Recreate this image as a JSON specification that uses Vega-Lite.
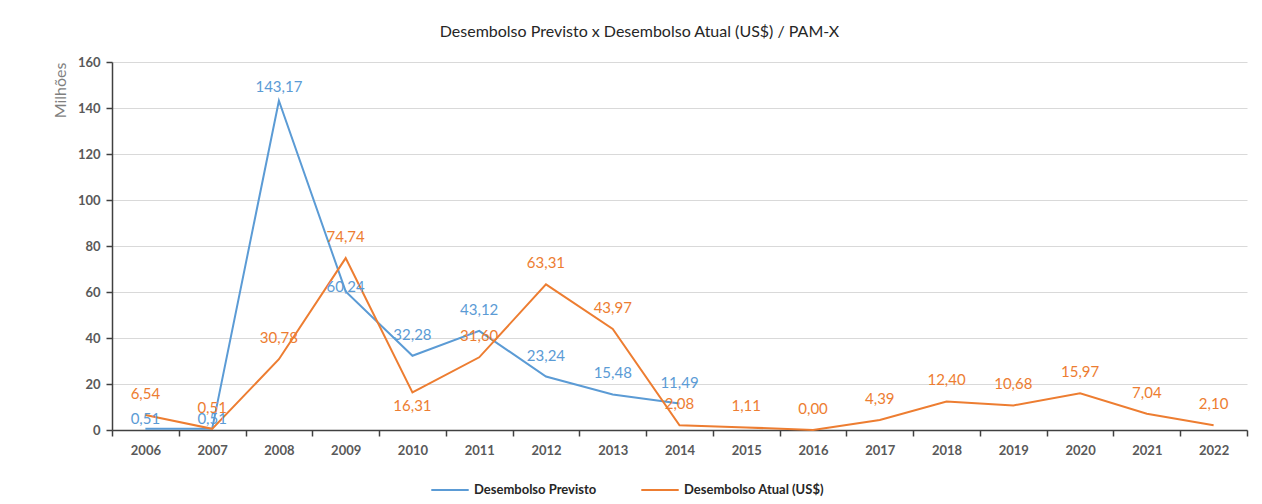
{
  "$schema": "https://vega.github.io/schema/vega-lite/v6.json",
  "width": 1135,
  "height": 368,
  "padding": {"left": 52, "top": 24, "right": 15, "bottom": 5},
  "background": "white",
  "config": {
    "font": "Lato",
    "locale": {"number": {"decimal": ",", "thousands": ".", "grouping": [3], "currency": ["R$", ""]}},
    "view": {"stroke": null},
    "axis": {"labelFont": "Lato", "titleFont": "Lato"}
  },
  "title": {
    "text": "Desembolso Previsto x Desembolso Atual (US$) / PAM-X",
    "fontSize": 16,
    "fontWeight": "normal",
    "color": "#262626",
    "font": "Lato",
    "offset": 16,
    "dx": -40
  },
  "data": {
    "values": [
      {"year": "2006", "s": "Desembolso Previsto", "v": 0.51},
      {"year": "2007", "s": "Desembolso Previsto", "v": 0.51},
      {"year": "2008", "s": "Desembolso Previsto", "v": 143.17},
      {"year": "2009", "s": "Desembolso Previsto", "v": 60.24},
      {"year": "2010", "s": "Desembolso Previsto", "v": 32.28},
      {"year": "2011", "s": "Desembolso Previsto", "v": 43.12},
      {"year": "2012", "s": "Desembolso Previsto", "v": 23.24},
      {"year": "2013", "s": "Desembolso Previsto", "v": 15.48},
      {"year": "2014", "s": "Desembolso Previsto", "v": 11.49},
      {"year": "2006", "s": "Desembolso Atual (US$)", "v": 6.54},
      {"year": "2007", "s": "Desembolso Atual (US$)", "v": 0.51},
      {"year": "2008", "s": "Desembolso Atual (US$)", "v": 30.78},
      {"year": "2009", "s": "Desembolso Atual (US$)", "v": 74.74},
      {"year": "2010", "s": "Desembolso Atual (US$)", "v": 16.31},
      {"year": "2011", "s": "Desembolso Atual (US$)", "v": 31.60},
      {"year": "2012", "s": "Desembolso Atual (US$)", "v": 63.31},
      {"year": "2013", "s": "Desembolso Atual (US$)", "v": 43.97},
      {"year": "2014", "s": "Desembolso Atual (US$)", "v": 2.08},
      {"year": "2015", "s": "Desembolso Atual (US$)", "v": 1.11},
      {"year": "2016", "s": "Desembolso Atual (US$)", "v": 0.00},
      {"year": "2017", "s": "Desembolso Atual (US$)", "v": 4.39},
      {"year": "2018", "s": "Desembolso Atual (US$)", "v": 12.40},
      {"year": "2019", "s": "Desembolso Atual (US$)", "v": 10.68},
      {"year": "2020", "s": "Desembolso Atual (US$)", "v": 15.97},
      {"year": "2021", "s": "Desembolso Atual (US$)", "v": 7.04},
      {"year": "2022", "s": "Desembolso Atual (US$)", "v": 2.10}
    ]
  },
  "encoding": {
    "x": {
      "field": "year",
      "type": "ordinal",
      "bandPosition": 0.5,
      "scale": {"type": "band", "paddingInner": 0, "paddingOuter": 0},
      "axis": {
        "title": null,
        "labelAngle": 0,
        "labelFontWeight": "bold",
        "labelFontSize": 13,
        "labelColor": "#595959",
        "labelPadding": 8,
        "domainColor": "#404040",
        "domainWidth": 1.5,
        "tickColor": "#404040",
        "tickWidth": 1.5,
        "tickSize": 6,
        "tickBand": "extent",
        "grid": false
      }
    },
    "y": {
      "field": "v",
      "type": "quantitative",
      "scale": {"domain": [0, 160], "nice": false},
      "axis": {
        "title": "Milhões",
        "titleFontWeight": "normal",
        "titleFontSize": 16,
        "titleColor": "#7f7f7f",
        "titleAnchor": "end",
        "titlePadding": 9,
        "values": [0, 20, 40, 60, 80, 100, 120, 140, 160],
        "labelFontWeight": "bold",
        "labelFontSize": 13,
        "labelColor": "#595959",
        "labelPadding": 6,
        "domainColor": "#404040",
        "domainWidth": 1.5,
        "tickColor": "#404040",
        "tickWidth": 1.5,
        "tickSize": 6,
        "gridColor": "#d9d9d9",
        "gridWidth": 1
      }
    },
    "color": {
      "field": "s",
      "type": "nominal",
      "scale": {
        "domain": ["Desembolso Previsto", "Desembolso Atual (US$)"],
        "range": ["#5B9BD5", "#ED7D31"]
      },
      "legend": {
        "title": null,
        "orient": "none",
        "legendX": 318,
        "legendY": 408,
        "direction": "horizontal",
        "symbolType": "stroke",
        "symbolStrokeWidth": 2,
        "symbolSize": 1400,
        "labelFontWeight": "bold",
        "labelFontSize": 13,
        "labelColor": "#262626",
        "columnPadding": 40
      }
    }
  },
  "layer": [
    {"mark": {"type": "line", "strokeWidth": 2}},
    {
      "transform": [{"filter": "!(datum.s == 'Desembolso Atual (US$)' && datum.year == '2010') && !(datum.s == 'Desembolso Previsto' && (datum.year == '2006' || datum.year == '2007' || datum.year == '2008' || datum.year == '2009'))"}],
      "mark": {"type": "text", "dy": -21, "fontSize": 15, "font": "Lato"},
      "encoding": {"text": {"field": "v", "type": "quantitative", "format": ".2f"}}
    },
    {
      "transform": [{"filter": "datum.s == 'Desembolso Previsto' && (datum.year == '2006' || datum.year == '2007')"}],
      "mark": {"type": "text", "dy": -10, "fontSize": 15, "font": "Lato"},
      "encoding": {"text": {"field": "v", "type": "quantitative", "format": ".2f"}}
    },
    {
      "transform": [{"filter": "datum.s == 'Desembolso Previsto' && datum.year == '2008'"}],
      "mark": {"type": "text", "dy": -14, "fontSize": 15, "font": "Lato"},
      "encoding": {"text": {"field": "v", "type": "quantitative", "format": ".2f"}}
    },
    {
      "transform": [{"filter": "datum.s == 'Desembolso Previsto' && datum.year == '2009'"}],
      "mark": {"type": "text", "dy": -4, "fontSize": 15, "font": "Lato"},
      "encoding": {"text": {"field": "v", "type": "quantitative", "format": ".2f"}}
    },
    {
      "transform": [{"filter": "datum.s == 'Desembolso Atual (US$)' && datum.year == '2010'"}],
      "mark": {"type": "text", "dy": 14, "fontSize": 15, "font": "Lato"},
      "encoding": {"text": {"field": "v", "type": "quantitative", "format": ".2f"}}
    }
  ]
}
